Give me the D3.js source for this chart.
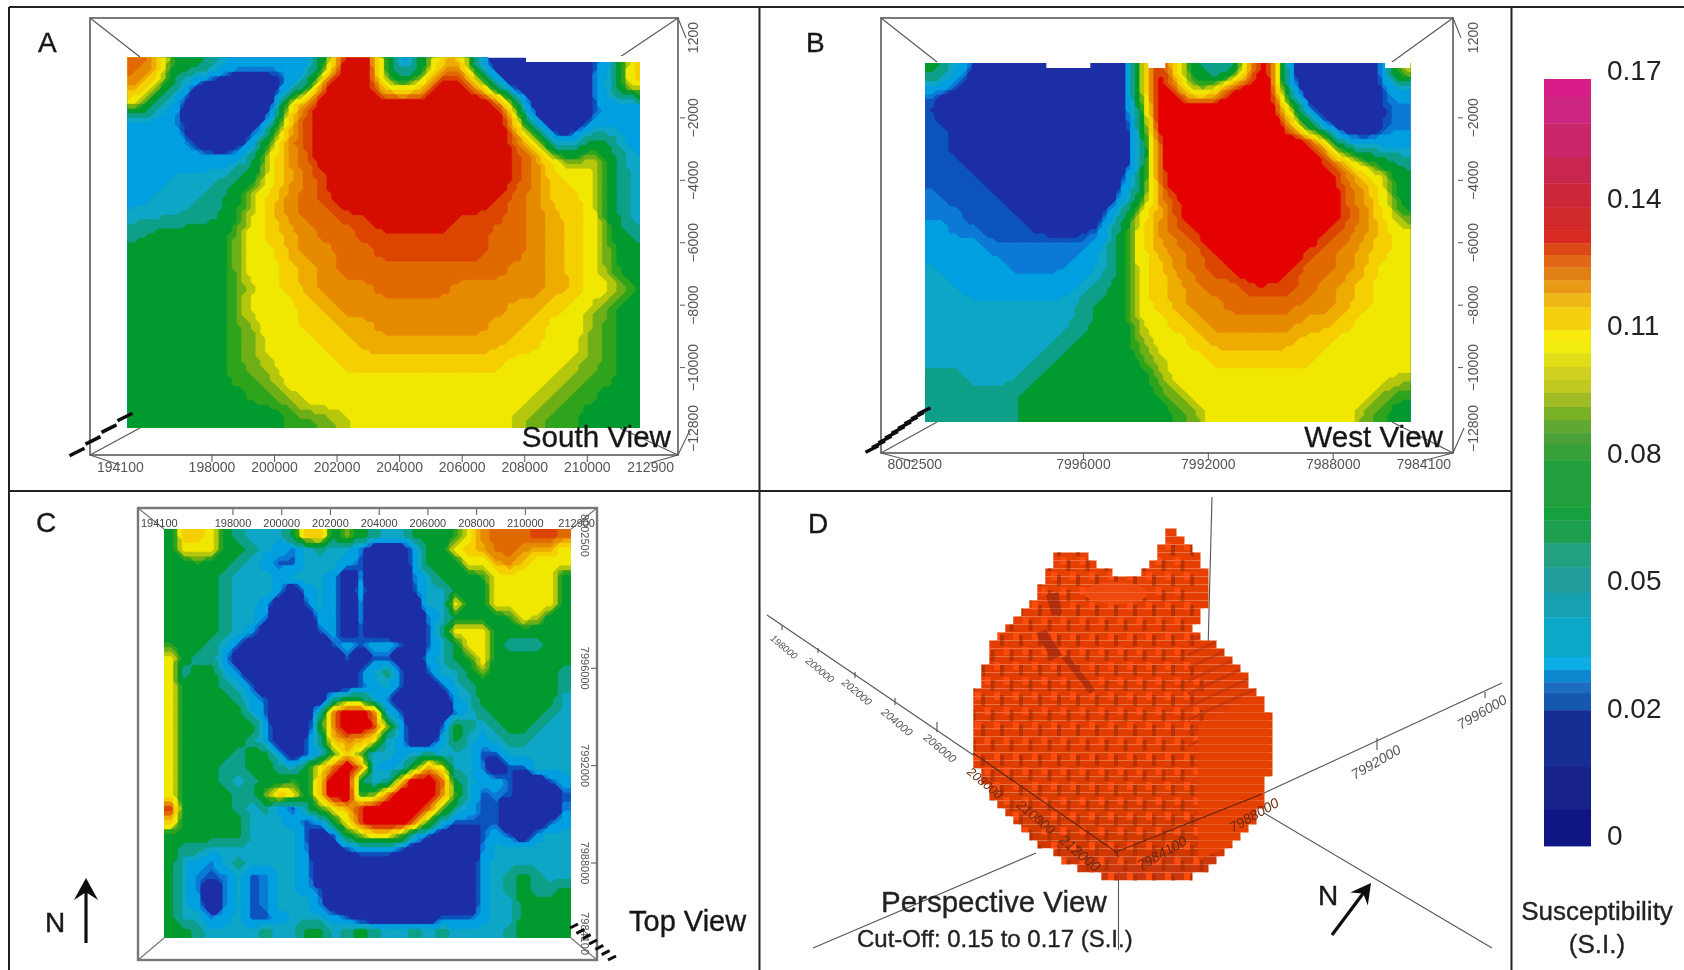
<!DOCTYPE html>
<html>
<head>
<meta charset="utf-8">
<title>Susceptibility model views</title>
<script src="https://cdnjs.cloudflare.com/ajax/libs/d3/7.8.5/d3.min.js"></script>
<style>
	html, body { margin: 0; padding: 0; background: #fff; }
	svg { display: block; }
	text { font-family: "Liberation Sans", Arial, sans-serif; }
</style>
</head>
<body>
<svg id="chart" width="1684" height="970" viewBox="0 0 1684 970"></svg>
<script>
// Susceptibility grades: one character per grid cell in the rows below
const gradeCodes = "0123456789abcdefg".split("");
const gradeValues = [0.015, 0.035, 0.0375, 0.044, 0.053, 0.064, 0.077, 0.0875, 0.0925, 0.0975, 0.105, 0.114, 0.12, 0.125, 0.13, 0.135, 0.15];
const bandEdges = [0, 0.034, 0.0363, 0.039, 0.05, 0.058, 0.07, 0.085, 0.09, 0.095, 0.1, 0.11, 0.1175, 0.1225, 0.1275, 0.1325, 0.1375];
const bandColors = ["#1c2ea6", "#0b52bd", "#0879d6", "#049fdf", "#0aa6c6", "#0a9f88", "#059a2f", "#2fa31f", "#6eae14", "#b5c708", "#f0e800", "#f5cf00", "#eeab00", "#e68a00", "#e16a00", "#dc4400", "#d81000"];

const southRows = [
	"ed665333337gg816bd40000013b",
	"da51000025ggga7aggc4000015b",
	"a5300000afgggggggggg6000133",
	"33300003cfggggggggggb100233",
	"33310018dfggggggggggeb13653",
	"3333335adeggggggggggfea7a64",
	"3344456acefgggggggggfdbaa64",
	"3444569bdefggggggggfedbba64",
	"4445569bdeeffggggfffedcba64",
	"566667abcdeefffffffeedcba75",
	"666667aacddeeffffffeedcba76",
	"666667aabcdeeeeeeeeeddcba76",
	"6666679abcdddeeeedddddccaa7",
	"666667aaabcdddddddddccba976",
	"6666678aabbccddddddccbaa876",
	"6666678aaabbccccccccbbaa876",
	"66666789aaabbbbbbbbbaaa9876",
	"66666778aaaaaaaaaaaaaa98776",
	"666666778aaaaaaaaaaaa987766",
	"666666667789aaaaaaaa9877666"
];

const westRows = [
	"641000000008ga645eg100002a",
	"210000000008ge7aggg4000013",
	"100000000006ggggggga100012",
	"110000000005ggggggge610012",
	"110000000004fggggggggb4333",
	"111000000004fggggggggfc865",
	"111100000015egggggggggeca6",
	"211110000016dfggggggggeda6",
	"22111100015acfggggggggfdb7",
	"32211111126adefggggggfedba",
	"33322222246acdefggggfedcba",
	"43332222346abdeffggfeedcaa",
	"44333333456abcdeefffedcbaa",
	"44444444566abcddeeeeddcbaa",
	"444444445669abcdddddccbaaa",
	"444444456668aabcccccbbaaaa",
	"4444445666679aabbbbbbaaaaa",
	"5544456666668aaaaaaaaaaaa9",
	"55555666666678aaaaaaaaaa87",
	"555556666666678aaaaaaaa876"
];

const topRows = [
	"6bba654446bb6865446667adeeeffe",
	"6aaa66543245442000366abceedcca",
	"6676654311444310003666aacdbaaa",
	"666654443444302000246667aaaaa6",
	"666654443034303000144666aaaaa6",
	"666654430014302000044a66aaaaa6",
	"66665442000330200002466667a966",
	"666654300001301000015aaa666666",
	"7665410000001313310146aa655566",
	"a6553000000001011003467a666666",
	"a56642000000001451014468666665",
	"a66654100000001341001456666665",
	"a66665310000566420000346666664",
	"a66666410005dggd41000245666654",
	"a66666630006dggf83001654566544",
	"a66666530015bdca43003643455444",
	"a666656630147b8443454441144444",
	"a6665566546aegd4347ca442011444",
	"a6665456676bgg645bgge643310013",
	"a6666558ba6bgg78dgggd741210001",
	"f66665453157acfgggge8531100002",
	"b666664443136afgggd74111100013",
	"666666444410168aa7410001310344",
	"655444444420013331000002444444",
	"643245444430000000000003444444",
	"642124124430000000000003456544",
	"642024124431000000000003456556",
	"643024124442000000000003446666",
	"644234113444310000001113446666",
	"665444454466456544545444456666"
];

const southTicks = [194100, 198000, 200000, 202000, 204000, 206000, 208000, 210000, 212900];
const westTicks = [8002500, 7996000, 7992000, 7988000, 7984100];
const depthTicks = [1200, -2000, -4000, -6000, -8000, -10000, -12800];
const northTicks = [8002500, 7996000, 7992000, 7988000, 7984100];
const southGaps = [[208040, 211680]];
const westGaps = [[7997188, 7995780], [7993924, 7993380], [7986340, 7985540]];

// Colour bar
const barEdges = [0.17, 0.166, 0.1602, 0.1527, 0.1469, 0.1416, 0.1365, 0.1336, 0.131, 0.1283, 0.1254, 0.1225, 0.1194, 0.1143, 0.1117, 0.1092, 0.1062, 0.1033, 0.1004, 0.0973, 0.0944, 0.0915, 0.0889, 0.0855, 0.0751, 0.0722, 0.0671, 0.0618, 0.0561, 0.0507, 0.0419, 0.039, 0.0363, 0.0339, 0.0301, 0.0175, 0.008, 0];
const barColors = ["#d81e88", "#cc2680", "#c82868", "#c82850", "#cc283a", "#d22a2c", "#d82a20", "#dc4a18", "#e06818", "#e08018", "#e89a18", "#efb818", "#f5d00e", "#f8ea08", "#f2ec10", "#e0dc18", "#d0d020", "#c0c820", "#a0bb28", "#78b028", "#60a830", "#48a038", "#38a038", "#20a03c", "#18a040", "#1fa050", "#20a080", "#209c9c", "#18a0b0", "#10a8c8", "#08aee6", "#1088d0", "#1c6cc0", "#1458b0", "#182e94", "#142088", "#0f1884"];
const barLabels = ["0.17", "0.14", "0.11", "0.08", "0.05", "0.02", "0"];

// Voxel body of the perspective view, in voxel columns per voxel row
const blobLeft = [24, 24, 23, 23, 22, 21, 9, 8, 8, 7, 6, 5, 4, 3, 2, 2, 2, 1, 1, 1, 0, 0, 0, 0, 0, 0, 0, 0, 0, 0, 1, 1, 2, 2, 3, 4, 5, 6, 7, 8, 10, 11, 13, 16];
const blobRight = [25, 26, 27, 28, 28, 29, 29, 29, 29, 29, 28, 28, 27, 28, 30, 31, 32, 33, 34, 34, 35, 36, 36, 37, 37, 37, 37, 37, 37, 37, 37, 36, 36, 36, 36, 35, 35, 34, 33, 32, 31, 30, 29, 27];
const lobeRows = [3, 4, 5];
const lobeLeft = [10, 10, 9];
const lobeRight = [14, 15, 17];
const easting3d = [198000, 200000, 202000, 204000, 206000, 208000, 210000, 212000];
const northing3d = [7996000, 7992000, 7988000, 7984100];

const svg = d3.select("#chart");
const defs = svg.append("defs");
defs.append("filter")
	.attr("id", "soft")
	.attr("filterUnits", "userSpaceOnUse")
	.attr("x", 0).attr("y", 0).attr("width", 1684).attr("height", 970)
	.append("feGaussianBlur").attr("stdDeviation", 0.55);
defs.append("filter")
	.attr("id", "softer")
	.attr("filterUnits", "userSpaceOnUse")
	.attr("x", 0).attr("y", 0).attr("width", 1684).attr("height", 970)
	.append("feGaussianBlur").attr("stdDeviation", 0.65);
const root = svg.append("g").attr("filter", "url(#soft)");

let gridCount = 0;

// grid cells are resampled for drawing only, the contour steps imitate the blocky raster of the model
function drawGrid(rows, left, right, top, bottom, redColor, factor, blurRadius) {
	const ny = rows.length;
	const nx = d3.min(rows, d => d.length);
	const cell = (i, j) => gradeValues[gradeCodes.indexOf(rows[Math.max(0, Math.min(ny - 1, j))][Math.max(0, Math.min(nx - 1, i))])];
	const w = nx * factor + 2;
	const h = ny * factor + 2;
	const fine = new Float64Array(w * h);
	for (let j = 0; j < h; j++) {
		for (let i = 0; i < w; i++) {
			const gx = (i - 1 + 0.5) / factor - 0.5;
			const gy = (j - 1 + 0.5) / factor - 0.5;
			const ix = Math.floor(gx), iy = Math.floor(gy);
			const tx = gx - ix, ty = gy - iy;
			fine[j * w + i] = d3.interpolate(
				d3.interpolate(cell(ix, iy), cell(ix + 1, iy))(tx),
				d3.interpolate(cell(ix, iy + 1), cell(ix + 1, iy + 1))(tx)
			)(ty);
		}
	}
	if (blurRadius > 0) d3.blur2({ data: fine, width: w }, blurRadius);

	const x = d3.scaleLinear().domain([1, w - 1]).range([left, right]);
	const y = d3.scaleLinear().domain([1, h - 1]).range([top, bottom]);
	const path = d3.geoPath(d3.geoTransform({
		point: function (px, py) { this.stream.point(x(px), y(py)); }
	}));
	const contours = d3.contours().size([w, h]).smooth(false).thresholds(bandEdges.slice(1))(Array.from(fine));

	gridCount += 1;
	const clipId = "grid-clip-" + gridCount;
	defs.append("clipPath").attr("id", clipId)
		.append("rect")
		.attr("x", left).attr("y", top)
		.attr("width", right - left).attr("height", bottom - top);
	const g = root.append("g").attr("clip-path", "url(#" + clipId + ")");
	g.append("rect")
		.attr("x", left).attr("y", top)
		.attr("width", right - left).attr("height", bottom - top)
		.attr("fill", bandColors[0]);
	g.selectAll("path")
		.data(contours)
		.enter()
		.append("path")
		.attr("d", path)
		.attr("fill", (d, i) => (i + 1 == bandColors.length - 1 ? redColor : bandColors[i + 1]))
		.attr("stroke", (d, i) => (i + 1 == bandColors.length - 1 ? redColor : bandColors[i + 1]))
		.attr("stroke-width", 0.3);
}

function drawFrame(x0, y0, x1, y1, inner, stroke, width) {
	const g = root.append("g").attr("fill", "none").attr("stroke", stroke).attr("stroke-width", width);
	g.append("rect").attr("x", x0).attr("y", y0).attr("width", x1 - x0).attr("height", y1 - y0);
	const corners = [[x0, y0, inner[0], inner[1]], [x1, y0, inner[2], inner[1]], [x0, y1, inner[0], inner[3]], [x1, y1, inner[2], inner[3]]];
	g.selectAll("line")
		.data(corners)
		.enter()
		.append("line")
		.attr("x1", d => d[0]).attr("y1", d => d[1])
		.attr("x2", d => d[2]).attr("y2", d => d[3])
		.attr("stroke-width", 1.2);
}

function drawDashes(x0, y0, x1, y1, count, len, width) {
	root.append("g").selectAll("line")
		.data(d3.range(count))
		.enter()
		.append("line")
		.attr("x1", d => x0 + (x1 - x0) * d / (count - 1) - len / 2)
		.attr("y1", d => y0 + (y1 - y0) * d / (count - 1) + len / 4)
		.attr("x2", d => x0 + (x1 - x0) * d / (count - 1) + len / 2)
		.attr("y2", d => y0 + (y1 - y0) * d / (count - 1) - len / 4)
		.attr("stroke", "#111")
		.attr("stroke-width", width);
}

function bottomAxis(ticks, x, frameY, labelY, fontSize) {
	const g = root.append("g");
	g.selectAll("line")
		.data(ticks.slice(1, -1))
		.enter()
		.append("line")
		.attr("x1", x).attr("x2", x)
		.attr("y1", frameY).attr("y2", frameY + 7)
		.attr("stroke", "#555").attr("stroke-width", 1);
	g.selectAll("text")
		.data(ticks)
		.enter()
		.append("text")
		.attr("x", (d, i) => x(d) + (i == 0 ? 7 : i == ticks.length - 1 ? -4 : 0))
		.attr("y", labelY)
		.attr("text-anchor", (d, i) => (i == 0 ? "start" : i == ticks.length - 1 ? "end" : "middle"))
		.attr("font-size", fontSize)
		.attr("fill", "#555")
		.text(d => d);
}

function sideAxis(ticks, y, frameX, labelX, fontSize, angle) {
	const g = root.append("g");
	g.selectAll("line")
		.data(ticks.slice(1, -1))
		.enter()
		.append("line")
		.attr("x1", frameX).attr("x2", frameX + 5)
		.attr("y1", y).attr("y2", y)
		.attr("stroke", "#555").attr("stroke-width", 1);
	const last = ticks.length - 1;
	g.selectAll("text")
		.data(ticks)
		.enter()
		.append("text")
		.attr("transform", (d, i) => "translate(" + labelX + "," + (y(d) + (i == 0 ? 4 : i == last ? -3 : 0)) + ") rotate(" + angle + ")")
		.attr("dy", "0.35em")
		.attr("text-anchor", (d, i) => {
			if (i == 0) return angle < 0 ? "end" : "start";
			if (i == last) return angle < 0 ? "start" : "end";
			return "middle";
		})
		.attr("font-size", fontSize)
		.attr("fill", "#555")
		.text(d => String(d).replace("-", "\u2212"));
}

function drawLabel(text, x, y, size, anchor, color) {
	root.append("text")
		.attr("x", x).attr("y", y)
		.attr("font-size", size)
		.attr("text-anchor", anchor || "start")
		.attr("fill", color || "#161616")
		.attr("stroke", color || "#161616")
		.attr("stroke-width", 0.35)
		.text(text);
}

function drawArrow(x1, y1, x2, y2, head) {
	const a = Math.atan2(y2 - y1, x2 - x1);
	const g = root.append("g");
	g.append("line")
		.attr("x1", x1).attr("y1", y1).attr("x2", x2 - 6 * Math.cos(a)).attr("y2", y2 - 6 * Math.sin(a))
		.attr("stroke", "#111").attr("stroke-width", 3.2);
	g.append("path")
		.attr("d", d3.line()([
			[x2, y2],
			[x2 - head * Math.cos(a) + head * 0.55 * Math.sin(a), y2 - head * Math.sin(a) - head * 0.55 * Math.cos(a)],
			[x2 - head * 0.65 * Math.cos(a), y2 - head * 0.65 * Math.sin(a)],
			[x2 - head * Math.cos(a) - head * 0.55 * Math.sin(a), y2 - head * Math.sin(a) + head * 0.55 * Math.cos(a)]
		]) + "Z")
		.attr("fill", "#111");
}

// Panel A, south view
const southX = d3.scaleLinear().domain([194100, 212900]).range([90, 678]);
const southZ = d3.scaleLinear().domain([1200, -12800]).range([18, 455]);
drawFrame(90, 18, 678, 455, [140, 57, 620, 428], "#5a5a5a", 1.6);
drawGrid(southRows, 127.5, 640, 57.5, 428, "#d41000", 4, 0.8);
root.selectAll(".gapA")
	.data(southGaps)
	.enter()
	.append("rect")
	.attr("x", d => southX(d[0])).attr("width", d => southX(d[1]) - southX(d[0]))
	.attr("y", 56).attr("height", 6).attr("fill", "#fff");
bottomAxis(southTicks, southX, 455, 472, 14);
sideAxis(depthTicks, southZ, 680, 693, 14, -90);
root.append("path").attr("d", "M678,18L686,38M678,455L690,430M90,455L120,465M678,455L650,463")
	.attr("fill", "none").attr("stroke", "#5a5a5a").attr("stroke-width", 1.1);
drawDashes(77, 452, 125, 417, 4, 15, 3.5);
drawLabel("A", 38, 52, 28);
drawLabel("South View", 671, 447, 29.6, "end");

// Panel B, west view
const westX = d3.scaleLinear().domain([8002500, 7984100]).range([880.5, 1455]);
drawFrame(881, 18, 1453, 453, [937, 62, 1392, 422], "#5a5a5a", 1.6);
drawGrid(westRows, 925, 1410.5, 63, 422, "#e40000", 4, 0.8);
root.selectAll(".gapB")
	.data(westGaps)
	.enter()
	.append("rect")
	.attr("x", d => westX(d[0])).attr("width", d => westX(d[1]) - westX(d[0]))
	.attr("y", 62).attr("height", 6).attr("fill", "#fff");
bottomAxis(westTicks, westX, 453, 469, 14);
sideAxis(depthTicks, southZ, 1458, 1473, 14, -90);
root.append("path").attr("d", "M1453,18L1461,38M1453,453L1464,428M881,453L915,462M1453,453L1422,461")
	.attr("fill", "none").attr("stroke", "#5a5a5a").attr("stroke-width", 1.1);
drawDashes(872, 449, 924, 411, 9, 13, 3.5);
drawLabel("B", 806, 52, 28);
drawLabel("West View", 1443, 447, 29.6, "end");

// Panel C, top view
const topX = d3.scaleLinear().domain([194100, 212900]).range([138, 596]);
const topY = d3.scaleLinear().domain([8002500, 7984100]).range([510, 958]);
drawFrame(138, 508, 597, 960, [164, 529, 571, 938], "#777", 2.4);
drawGrid(topRows, 164, 571, 529, 938, "#e00000", 3, 0);
const topAxis = root.append("g");
topAxis.selectAll("line")
	.data(southTicks.slice(1, -1))
	.enter()
	.append("line")
	.attr("x1", topX).attr("x2", topX)
	.attr("y1", 509).attr("y2", 515)
	.attr("stroke", "#555");
topAxis.selectAll("text")
	.data(southTicks)
	.enter()
	.append("text")
	.attr("x", (d, i) => topX(d) + (i == 0 ? 3 : i == southTicks.length - 1 ? -1 : 0))
	.attr("y", 527)
	.attr("text-anchor", (d, i) => (i == 0 ? "start" : i == southTicks.length - 1 ? "end" : "middle"))
	.attr("font-size", 11)
	.attr("fill", "#444")
	.text(d => d);
sideAxis(northTicks, topY, 591, 585, 11, 90);
drawDashes(574, 926, 612, 958, 7, 8, 3);
drawLabel("C", 36, 532, 28);
drawLabel("N", 45, 932, 28);
drawArrow(86, 943, 86, 878, 22);
drawLabel("Top View", 629, 931, 29);

// Panel D, perspective view
const axisBack = root.append("g").attr("stroke", "#555").attr("stroke-width", 1.1).attr("fill", "none");
axisBack.append("path").attr("d", "M1212,497L1208,650M767,615L985,763M1264,813L1492,948M1036,853L813,948M1118.5,857L1118.5,950M1262,794L1502,683");
axisBack.append("path").attr("d", "M782,630L782,625M818,653L818,648M855,678L855,672M895,705L895,698M937,732L937,722M1485,698L1485,692M1377,750L1377,738M1254,807L1254,797");

const voxelX = d3.scaleLinear().domain([0, 1]).range([973.3, 981.3]);
const voxelY = d3.scaleLinear().domain([0, 1]).range([528.3, 536.3]);
const voxelShade = d3.scaleLinear().domain([0, 30, 44]).range(["#e63f05", "#df3d05", "#c93707"]);

const blobRows = blobLeft.map((d, i) => ({ row: i, left: d, right: blobRight[i] }))
	.concat(lobeRows.map((d, i) => ({ row: d, left: lobeLeft[i], right: lobeRight[i] })));
const blobClip = defs.append("clipPath").attr("id", "blob-clip");
blobClip.selectAll("rect")
	.data(blobRows)
	.enter()
	.append("rect")
	.attr("x", d => voxelX(d.left)).attr("y", d => voxelY(d.row))
	.attr("width", d => voxelX(d.right + 0.4) - voxelX(d.left)).attr("height", voxelY(1) - voxelY(0) + 0.2);
const blob = root.append("g").attr("clip-path", "url(#blob-clip)");
const blobInner = blob.append("g").attr("filter", "url(#softer)");
blobInner.selectAll(".rowfill")
	.data(blobRows)
	.enter()
	.append("rect")
	.attr("x", d => voxelX(d.left) - 3).attr("y", d => voxelY(d.row))
	.attr("width", d => voxelX(d.right + 0.4) - voxelX(d.left) + 6).attr("height", voxelY(1) - voxelY(0) + 0.2)
	.attr("fill", d => voxelShade(d.row));

// stair texture of the block faces
const stairCells = [];
d3.range(-2, 30).forEach(j => {
	d3.range(-14, 26).forEach(i => {
		const px = 975 + i * 19 + j * 9.5;
		const py = 572 + j * 15;
		const faceEdge = py > 720 ? 1212 : 1192 + (py - 572) * 0.02;
		if (px < faceEdge) stairCells.push([px, py]);
	});
});
blobInner.append("g").selectAll("rect")
	.data(stairCells)
	.enter()
	.append("rect")
	.attr("x", d => d[0] + 6).attr("y", d => d[1] + 3)
	.attr("width", 4).attr("height", 11)
	.attr("fill", "#b53005");
blobInner.append("g").selectAll("rect")
	.data(stairCells)
	.enter()
	.append("rect")
	.attr("x", d => d[0]).attr("y", d => d[1])
	.attr("width", 6).attr("height", 8)
	.attr("fill", "#fb4c0e");
// slanted steps on the right shoulder and the flat side face
blobInner.append("g").selectAll("line")
	.data(d3.range(9))
	.enter()
	.append("line")
	.attr("x1", 1188).attr("x2", 1270)
	.attr("y1", d => 642 + d * 13).attr("y2", d => 604 + d * 13)
	.attr("stroke", "#c73607").attr("stroke-width", 3);
blobInner.append("path")
	.attr("d", "M1198,725L1270,690L1270,830L1198,860Z")
	.attr("fill", "#e64002");
blobInner.append("ellipse")
	.attr("cx", 1116).attr("cy", 593).attr("rx", 32).attr("ry", 11)
	.attr("fill", "#f04a08");
blobInner.append("path")
	.attr("d", "M1046,595L1058,592L1062,613L1052,616ZM1036,633L1046,630L1062,655L1052,660ZM1062,658L1068,655L1095,690L1090,694Z")
	.attr("fill", "#b02e08");

const axisFront = root.append("g").attr("stroke", "#5b2410").attr("stroke-width", 1.1).attr("fill", "none");
axisFront.append("path").attr("d", "M973,753L1116,852L1262,794M1116,852L1118.5,857");

const east3dX = d3.scaleLinear().domain(easting3d).range([784, 820, 857, 897, 940, 985, 1036, 1080]);
const east3dY = d3.scaleLinear().domain(easting3d).range([647, 670, 692, 722, 748, 783, 817, 853]);
const east3dSize = d3.scaleLinear().domain(easting3d).range([9.5, 10, 10.5, 11, 11.5, 12.5, 13.5, 14.5]);
root.append("g").selectAll("text")
	.data(easting3d)
	.enter()
	.append("text")
	.attr("transform", d => "translate(" + east3dX(d) + "," + east3dY(d) + ") rotate(40)")
	.attr("text-anchor", "middle")
	.attr("dy", "0.35em")
	.attr("font-size", d => east3dSize(d))
	.attr("font-style", "italic")
	.attr("fill", d => (d < 208000 ? "#555" : "#6b2a12"))
	.text(d => d);

const north3dX = d3.scaleLinear().domain(northing3d).range([1482, 1376, 1254, 1162]);
const north3dY = d3.scaleLinear().domain(northing3d).range([712, 762, 815, 853]);
root.append("g").selectAll("text")
	.data(northing3d)
	.enter()
	.append("text")
	.attr("transform", d => "translate(" + north3dX(d) + "," + north3dY(d) + ") rotate(-30)")
	.attr("text-anchor", "middle")
	.attr("dy", "0.35em")
	.attr("font-size", 14)
	.attr("font-style", "italic")
	.attr("fill", d => (d > 7988000 ? "#555" : "#6b2a12"))
	.text(d => d);

drawLabel("D", 808, 533, 28);
drawLabel("Perspective View", 881, 912, 29.5, "start", "#222");
drawLabel("Cut-Off: 0.15 to 0.17 (S.I.)", 857, 947, 24, "start", "#222");
drawLabel("N", 1318, 905, 28);
drawArrow(1332, 935, 1371, 883, 20);

// Panel rules
root.append("path")
	.attr("d", "M9,7L1684,7M9,7L9,970M759.5,7L759.5,970M1511.5,7L1511.5,970M9,491L1511.5,491")
	.attr("fill", "none")
	.attr("stroke", "#222")
	.attr("stroke-width", 2);

// Colour bar
const barY = d3.scaleLinear().domain([0, 0.17]).range([846, 79]);
root.append("g").selectAll("rect")
	.data(barColors)
	.enter()
	.append("rect")
	.attr("x", 1544)
	.attr("width", 47)
	.attr("y", (d, i) => barY(barEdges[i]))
	.attr("height", (d, i) => barY(barEdges[i + 1]) - barY(barEdges[i]) + 0.4)
	.attr("fill", d => d);

const barLabelY = d3.scalePoint().domain(barLabels).range([70, 835]);
root.append("g").selectAll("text")
	.data(barLabels)
	.enter()
	.append("text")
	.attr("x", 1607)
	.attr("y", d => barLabelY(d))
	.attr("dy", "0.36em")
	.attr("font-size", 28)
	.attr("fill", "#222")
	.text(d => d);
drawLabel("Susceptibility", 1597, 920, 26, "middle", "#222");
drawLabel("(S.I.)", 1597, 953, 26, "middle", "#222");
</script>
</body>
</html>
